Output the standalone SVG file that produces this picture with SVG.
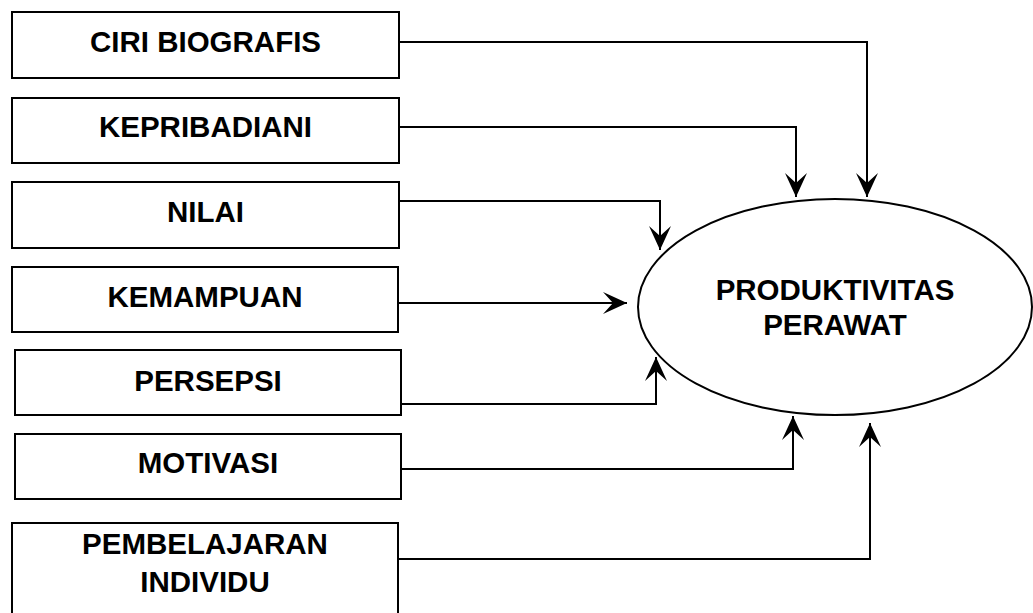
<svg xmlns="http://www.w3.org/2000/svg" width="1033" height="613" viewBox="0 0 1033 613">
<style>
.box{fill:#fff;stroke:#000;stroke-width:2}
.lbl{font-family:"Liberation Sans",Arial,sans-serif;font-weight:bold;font-size:29.5px;fill:#000;text-anchor:middle}
.con{fill:none;stroke:#000;stroke-width:2;marker-end:url(#ah)}
</style>
<defs>
<marker id="ah" markerUnits="userSpaceOnUse" viewBox="-25 -12 26 24" refX="0" refY="0" markerWidth="26" markerHeight="24" orient="auto">
<path d="M0,0 L-24,-11 L-14,0 L-24,11 Z" fill="#000"/>
</marker>
</defs>
<rect width="1033" height="613" fill="#fff"/>
<g id="connectors">
<polyline class="con" points="399,42 867,42 867,197"/>
<polyline class="con" points="399,127 796,127 796,197"/>
<polyline class="con" points="399,201 660,201 660,250"/>
<polyline class="con" points="398,303 627,303"/>
<polyline class="con" points="401,404 656,404 656,357"/>
<polyline class="con" points="401,469 793,469 793,416"/>
<polyline class="con" points="398,559 870,559 870,423"/>
</g>
<g id="n1"><rect class="box" x="12" y="12" width="387" height="66"/><text class="lbl" x="205.5" y="52">CIRI BIOGRAFIS</text></g>
<g id="n2"><rect class="box" x="12" y="98" width="387" height="65"/><text class="lbl" x="205.5" y="137">KEPRIBADIANI</text></g>
<g id="n3"><rect class="box" x="12" y="182" width="387" height="66"/><text class="lbl" x="205.5" y="222">NILAI</text></g>
<g id="n4"><rect class="box" x="12" y="267" width="386" height="65"/><text class="lbl" x="205" y="307">KEMAMPUAN</text></g>
<g id="n5"><rect class="box" x="15" y="350" width="386" height="65"/><text class="lbl" x="208" y="391">PERSEPSI</text></g>
<g id="n6"><rect class="box" x="15" y="434" width="386" height="65"/><text class="lbl" x="208" y="473">MOTIVASI</text></g>
<g id="n7"><rect class="box" x="12" y="523" width="386" height="100"/><text class="lbl" x="205" y="554">PEMBELAJARAN</text><text class="lbl" x="205" y="592">INDIVIDU</text></g>
<g id="target"><ellipse cx="835" cy="307" rx="197" ry="108" fill="#fff" stroke="#000" stroke-width="2"/><text class="lbl" x="835" y="300">PRODUKTIVITAS</text><text class="lbl" x="835" y="335">PERAWAT</text></g>
</svg>
